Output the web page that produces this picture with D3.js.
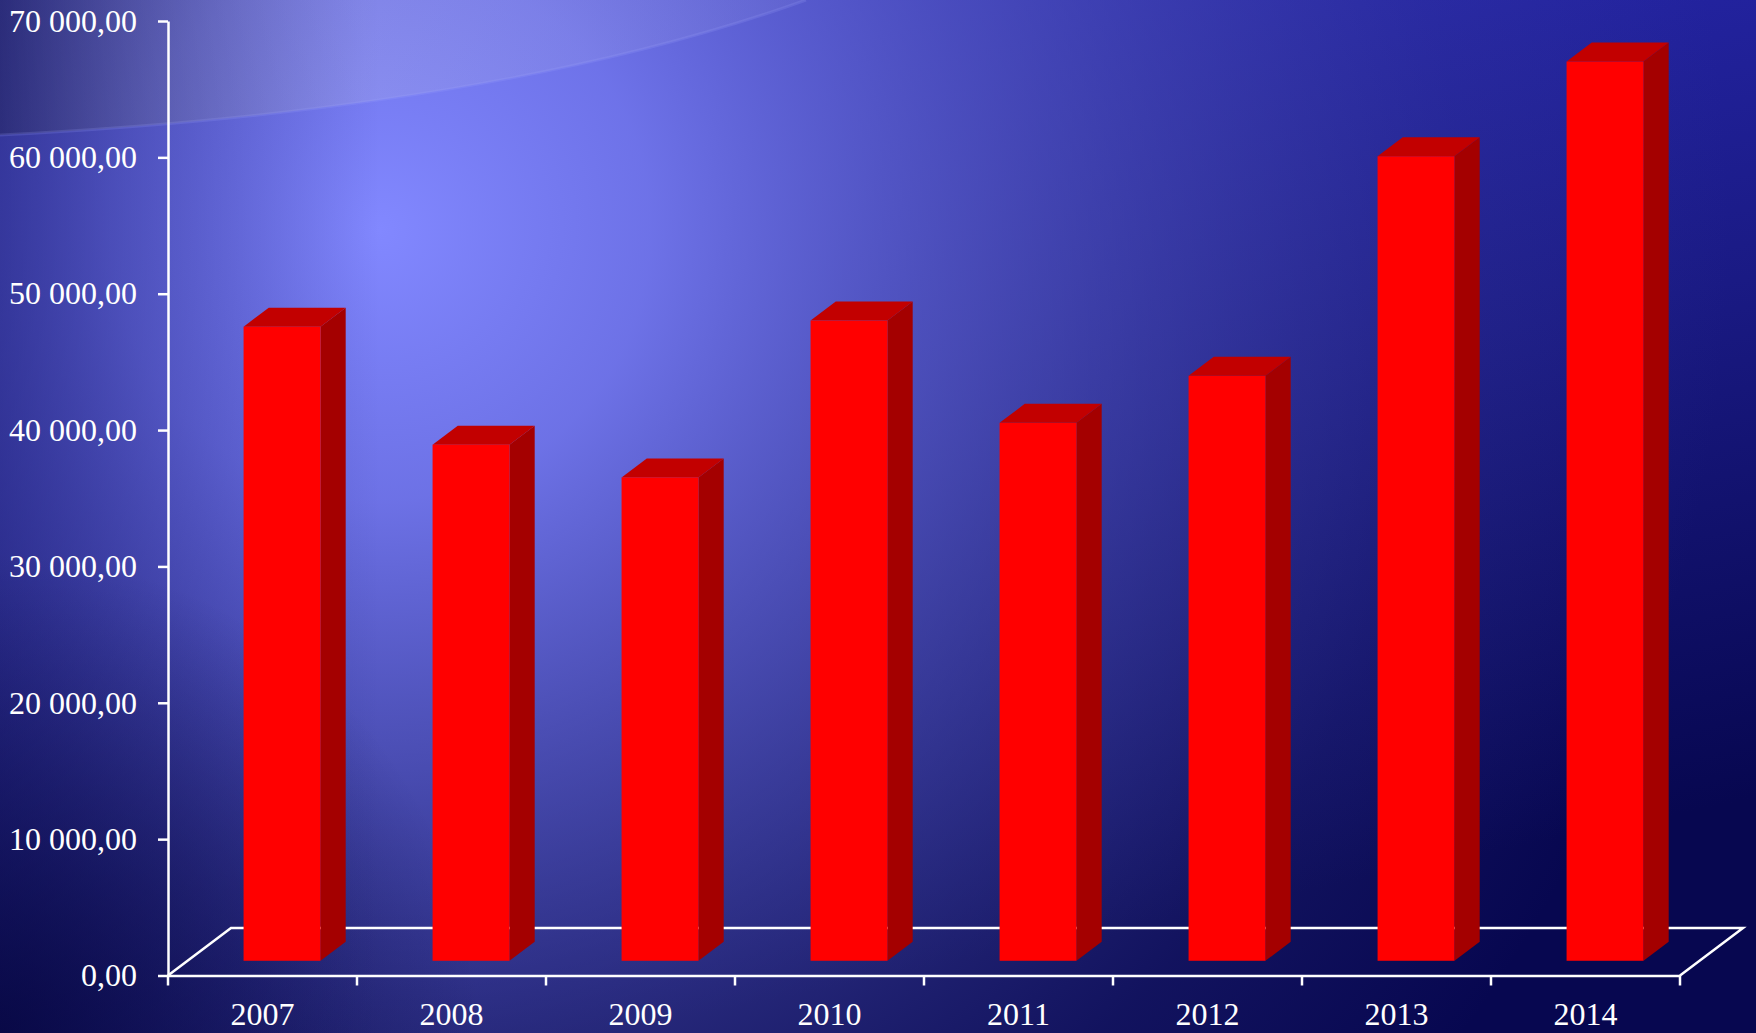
<!DOCTYPE html>
<html>
<head>
<meta charset="utf-8">
<script src="https://cdn.jsdelivr.net/npm/d3@7"></script>
<style>
html,body{margin:0;padding:0;background:#10106a;overflow:hidden;}
svg{display:block;}
text{font-family:"Liberation Serif","Times New Roman",serif;fill:#fff;}
</style>
</head>
<body>
<svg id="chart" width="1756" height="1033"></svg>
<script>
// ---- data ----
const categories = ["2007","2008","2009","2010","2011","2012","2013","2014"];
const values = [46500, 37850, 35450, 46950, 39450, 42900, 59000, 65950];
const yTickValues = [0, 10000, 20000, 30000, 40000, 50000, 60000, 70000];

// ---- layout ----
const W = 1756, H = 1033;
const svg = d3.select("#chart");
const defs = svg.append("defs");

// background
const lin = defs.append("linearGradient").attr("id","base")
  .attr("x1",0).attr("y1",0).attr("x2",0.35).attr("y2",1);
lin.append("stop").attr("offset",0).attr("stop-color","#2c2cbc");
lin.append("stop").attr("offset",0.55).attr("stop-color","#1a1a84");
lin.append("stop").attr("offset",1).attr("stop-color","#070750");

const rad = defs.append("radialGradient").attr("id","glow")
  .attr("gradientUnits","userSpaceOnUse").attr("cx",380).attr("cy",230).attr("r",1350);
rad.append("stop").attr("offset",0).attr("stop-color","#8288ff").attr("stop-opacity",1);
rad.append("stop").attr("offset",0.2).attr("stop-color","#767bf0").attr("stop-opacity",0.9);
rad.append("stop").attr("offset",0.5).attr("stop-color","#5c60c4").attr("stop-opacity",0.55);
rad.append("stop").attr("offset",0.8).attr("stop-color","#4448a0").attr("stop-opacity",0.18);
rad.append("stop").attr("offset",1).attr("stop-color","#4448a0").attr("stop-opacity",0);

const leftDark = defs.append("linearGradient").attr("id","leftDark")
  .attr("x1",0).attr("y1",0).attr("x2",1).attr("y2",0);
leftDark.append("stop").attr("offset",0).attr("stop-color","#0a0a60").attr("stop-opacity",0.5);
leftDark.append("stop").attr("offset",1).attr("stop-color","#0a0a60").attr("stop-opacity",0);

const bottomLeft = defs.append("radialGradient").attr("id","bl")
  .attr("gradientUnits","userSpaceOnUse").attr("cx",0).attr("cy",1033).attr("r",480);
bottomLeft.append("stop").attr("offset",0).attr("stop-color","#04043a").attr("stop-opacity",0.75);
bottomLeft.append("stop").attr("offset",1).attr("stop-color","#04043a").attr("stop-opacity",0);

const arcGrad = defs.append("linearGradient").attr("id","arcG")
  .attr("gradientUnits","userSpaceOnUse").attr("x1",0).attr("y1",0).attr("x2",806).attr("y2",0);
arcGrad.append("stop").attr("offset",0).attr("stop-color","#20204a").attr("stop-opacity",0.4);
arcGrad.append("stop").attr("offset",0.45).attr("stop-color","#c8c8d8").attr("stop-opacity",0.2);
arcGrad.append("stop").attr("offset",1).attr("stop-color","#c8c8e8").attr("stop-opacity",0.08);

svg.append("rect").attr("width",W).attr("height",H).attr("fill","url(#base)");
svg.append("rect").attr("width",W).attr("height",H).attr("fill","url(#glow)");
svg.append("rect").attr("width",380).attr("height",H).attr("fill","url(#leftDark)");
svg.append("rect").attr("width",W).attr("height",H).attr("fill","url(#bl)");
svg.append("path").attr("d","M0,0 L0,135 Q500,110 806,0 Z").attr("fill","url(#arcG)");
svg.append("path").attr("d","M0,135 Q500,110 806,0").attr("fill","none")
  .attr("stroke","#a0a4ff").attr("stroke-opacity",0.18).attr("stroke-width",3);

// scales
const x = d3.scaleBand().domain(categories).range([168, 1680]).paddingInner(0).paddingOuter(0);
const y = d3.scaleLinear().domain([0, 70000]).range([975.5, 21]);
const depth = {dx: 63, dy: -47.5};
const f0 = 0.31, fd = 0.4;           // bar depth start and thickness (fraction of floor depth)
const barW = x.bandwidth() * 0.407;

const axisColor = "#ffffff";

// floor
const x0 = x.range()[0], x1 = x.range()[1], y0 = y(0);
const floor = svg.append("g").attr("fill","none").attr("stroke",axisColor).attr("stroke-width",2.5);
floor.append("path").attr("d",
  `M${x0},${y0} L${x0+depth.dx},${y0+depth.dy} L${x1+depth.dx},${y0+depth.dy} L${x1},${y0}`);

// bars
const loc = d3.formatLocale({decimal: ",", thousands: " ", grouping: [3], currency: ["", ""]});
const fmt = loc.format(",.2f");

const bars = svg.append("g").selectAll("g").data(categories.map((c,i)=>({c, v: values[i]}))).join("g");
bars.each(function(d){
  const g = d3.select(this);
  const bx0 = x(d.c) + (x.bandwidth()-barW)/2 + f0*depth.dx;
  const bx1 = bx0 + barW;
  const yb = y(0) + f0*depth.dy;
  const yt = y(d.v) + f0*depth.dy;
  const ddx = fd*depth.dx, ddy = fd*depth.dy;
  g.append("path").attr("fill","#a40000")
    .attr("d",`M${bx1},${yt} L${bx1+ddx},${yt+ddy} L${bx1+ddx},${yb+ddy} L${bx1},${yb} Z`);
  g.append("path").attr("fill","#c20000")
    .attr("d",`M${bx0},${yt} L${bx0+ddx},${yt+ddy} L${bx1+ddx},${yt+ddy} L${bx1},${yt} Z`);
  g.append("rect").attr("fill","#ff0000")
    .attr("x",bx0).attr("y",yt).attr("width",barW).attr("height",yb-yt);
});

// y axis
const yAxis = svg.append("g").attr("transform","translate(168,0)")
  .call(d3.axisLeft(y).tickValues(yTickValues).tickFormat(fmt).tickSize(10).tickSizeOuter(0).tickPadding(21));
yAxis.selectAll("path,line").attr("stroke",axisColor).attr("stroke-width",2.5);
yAxis.selectAll("text").attr("font-size",32).attr("font-family","Liberation Serif").attr("fill","#fff");

// x axis
const xAxis = svg.append("g").attr("transform",`translate(0,${y(0)})`)
  .call(d3.axisBottom(x).tickSize(0).tickSizeOuter(0).tickPadding(27));
xAxis.selectAll("path").attr("stroke",axisColor).attr("stroke-width",2.5);
xAxis.selectAll("text").attr("font-size",32).attr("font-family","Liberation Serif").attr("fill","#fff");
xAxis.selectAll(".bound").data([x.range()[0]].concat(categories.map(c => x(c)+x.bandwidth())))
  .join("line").attr("class","bound")
  .attr("x1",d=>d).attr("x2",d=>d).attr("y1",0).attr("y2",10)
  .attr("stroke",axisColor).attr("stroke-width",2.5);
</script>
</body>
</html>
